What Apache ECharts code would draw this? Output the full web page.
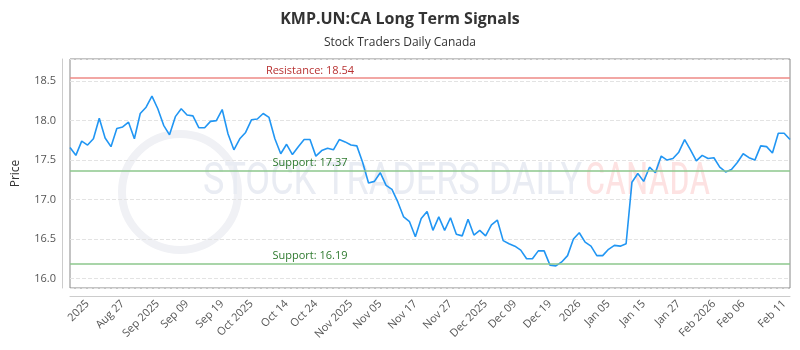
<!DOCTYPE html>
<html>
<head>
<meta charset="utf-8">
<script src="https://cdn.jsdelivr.net/npm/echarts@6/dist/echarts.min.js"></script>
<style>
  html, body { margin: 0; padding: 0; background: #fff; }
  #chart { width: 800px; height: 350px; }
</style>
</head>
<body>
<div id="chart"></div>
<script>
// Slotkoersen (handelsdagen).
const prices = [
  17.66, 17.56, 17.74, 17.69, 17.77, 18.03, 17.78, 17.67, 17.90, 17.92,
  17.98, 17.77, 18.09, 18.17, 18.31, 18.15, 17.94, 17.82, 18.05, 18.15,
  18.07, 18.06, 17.91, 17.91, 17.99, 18.00, 18.14, 17.83, 17.63, 17.77,
  17.85, 18.01, 18.02, 18.09, 18.04, 17.77, 17.58, 17.70, 17.57, 17.67,
  17.76, 17.76, 17.55, 17.62, 17.65, 17.63, 17.76, 17.73, 17.69, 17.68,
  17.47, 17.21, 17.23, 17.34, 17.18, 17.13, 16.97, 16.78, 16.72, 16.53,
  16.76, 16.85, 16.61, 16.78, 16.61, 16.77, 16.56, 16.54, 16.75, 16.55,
  16.61, 16.54, 16.68, 16.74, 16.48, 16.44, 16.41, 16.36, 16.25, 16.25,
  16.35, 16.35, 16.17, 16.16, 16.21, 16.29, 16.50, 16.58, 16.46, 16.41,
  16.29, 16.29, 16.37, 16.42, 16.41, 16.44, 17.22, 17.33, 17.23, 17.41,
  17.34, 17.55, 17.50, 17.52, 17.60, 17.76, 17.63, 17.49, 17.56, 17.52,
  17.53, 17.41, 17.35, 17.38, 17.47, 17.58, 17.53, 17.50, 17.68, 17.67,
  17.59, 17.84, 17.84, 17.76
];

// Aslabels en de index waarop ze staan.
const tickIndex = [3, 9, 15, 20, 26, 31, 37, 42, 48, 53, 59, 65, 71, 76, 82, 87, 92, 98, 104, 110, 115, 122];
const tickLabels = [
  '2025', 'Aug 27', 'Sep 2025', 'Sep 09', 'Sep 19', 'Oct 2025', 'Oct 14', 'Oct 24',
  'Nov 2025', 'Nov 05', 'Nov 17', 'Nov 27', 'Dec 2025', 'Dec 09', 'Dec 19', '2026',
  'Jan 05', 'Jan 15', 'Jan 27', 'Feb 2026', 'Feb 06', 'Feb 11'
];

// Weerstand en steun.
const levelValues = [18.54, 17.37, 16.19];
const levelNames = ['Resistance', 'Support', 'Support'];

const categories = prices.map((_, i) => String(i));

let chart = echarts.init(document.getElementById('chart'));

const levelColors = { Resistance: ['#ee8a86', '#b83232'], Support: ['#8cc78c', '#2f7a2f'] };

let option = {
  animation: false,
  title: {
    text: 'KMP.UN:CA Long Term Signals',
    subtext: 'Stock Traders Daily Canada',
    left: 'center',
    top: 6,
    itemGap: 10,
    textStyle: { fontFamily: 'Open Sans', fontSize: 16, fontWeight: 'bold', color: '#333' },
    subtextStyle: { fontFamily: 'Open Sans', fontSize: 12, color: '#333' }
  },
  grid: {
    left: 70, right: 10, top: 59, bottom: 62,
    show: true, borderColor: '#888', borderWidth: 1
  },
  // Watermerk op de achtergrond.
  graphic: [
    {
      type: 'circle', z: -1, silent: true,
      shape: { cx: 180, cy: 192, r: 58 },
      style: { fill: 'none', stroke: '#f0f1f5', lineWidth: 8 }
    },
    {
      type: 'text', z: -1, silent: true, x: 203, y: 160, scaleX: 0.8,
      style: {
        text: '{a|STOCK TRADERS DAILY} {b|CANADA}',
        rich: {
          a: { fontFamily: 'Roboto', fontSize: 45, fill: '#e9ecf3', color: '#e9ecf3' },
          b: { fontFamily: 'Roboto Condensed, Roboto', fontSize: 45, fill: '#fde2e2', color: '#fde2e2', width: 104, overflow: 'none' }
        }
      }
    }
  ],
  xAxis: {
    type: 'category',
    data: categories,
    boundaryGap: false,
    offset: 8,
    axisLine: { lineStyle: { color: '#ccc' } },
    axisTick: { show: false },
    splitLine: { show: false },
    axisLabel: {
      rotate: 45,
      margin: 6,
      fontFamily: 'Open Sans',
      fontSize: 11,
      color: '#555',
      interval: (i) => tickIndex.includes(i),
      formatter: (v, i) => tickLabels[tickIndex.indexOf(i)]
    }
  },
  yAxis: {
    type: 'value',
    min: 15.88,
    max: 18.78,
    offset: 8,
    name: 'Price',
    nameLocation: 'middle',
    nameGap: 40,
    nameTextStyle: { fontFamily: 'Open Sans', fontSize: 12, color: '#333' },
    axisLine: { show: true, lineStyle: { color: '#ccc' } },
    axisTick: { show: false },
    axisLabel: {
      fontFamily: 'Open Sans', fontSize: 11, color: '#555', margin: 6,
      showMinLabel: false, showMaxLabel: false,
      formatter: (v) => v.toFixed(1)
    },
    splitLine: { lineStyle: { color: '#e3e3e3', type: 'dashed' } }
  },
  series: [{
    type: 'line',
    data: prices,
    showSymbol: false,
    lineStyle: { color: '#2196f3', width: 1.6 },
    itemStyle: { color: '#2196f3' },
    z: 3,
    markLine: {
      silent: true,
      symbol: 'none',
      data: levelValues.map((v, k) => ({
        yAxis: v,
        lineStyle: { color: levelColors[levelNames[k]][0], width: 1.6, type: 'solid' },
        label: {
          formatter: levelNames[k] + ': ' + v.toFixed(2),
          color: levelColors[levelNames[k]][1]
        }
      })),
      label: {
        position: 'insideStartTop',
        align: 'center',
        distance: [240, 2],
        fontFamily: 'Open Sans',
        fontSize: 11
      }
    }
  }]
};

chart.setOption(option);
window.onresize = () => chart.resize();
</script>
</body>
</html>
